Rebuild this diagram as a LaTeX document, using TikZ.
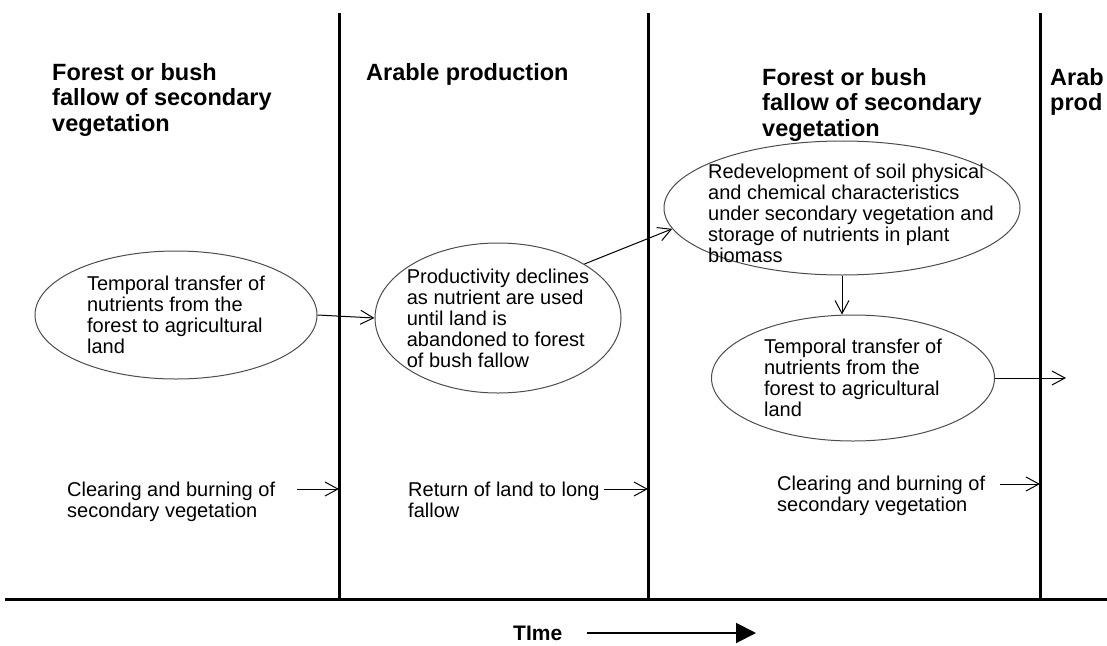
\documentclass[tikz,border=0pt]{standalone}
\usepackage{fontspec}
\setmainfont{Liberation Sans}
\usetikzlibrary{shapes.geometric, arrows.meta, positioning, calc}

\begin{document}
\begin{tikzpicture}[
  x=1pt, y=-1pt,
  phase/.style={align=left,anchor=north west,inner sep=0pt,font=\fontsize{23.5}{25.5}\selectfont\bfseries},
  blob/.style={draw=black!70,ellipse,line width=1pt,inner sep=0pt},
  blobtext/.style={align=left,inner sep=0pt,font=\fontsize{20}{21}\selectfont},
  note/.style={align=left,anchor=north west,inner sep=0pt,font=\fontsize{20}{21}\selectfont},
  divider/.style={line width=3pt},
  arrow/.style={-{Straight Barb[length=13pt,width=14pt]},line width=1pt},
  timearrow/.style={-{Triangle[length=20pt,width=20pt]},line width=2pt}
]
  \useasboundingbox (0,0) rectangle (1107,645);

  % time axis and phase borders
  \coordinate (axisL) at (5,599);   \coordinate (axisR) at (1107,599);
  \coordinate (top1) at (339,13);   \coordinate (bot1) at (339,599);
  \coordinate (top2) at (648,13);   \coordinate (bot2) at (648,599);
  \coordinate (top3) at (1040,13);  \coordinate (bot3) at (1040,599);
  \draw[divider] (axisL) -- (axisR);
  \draw[divider] (top1) -- (bot1);
  \draw[divider] (top2) -- (bot2);
  \draw[divider] (top3) -- (bot3);

  % phase headings
  \node[phase] (fallowA) at (52,63) {Forest or bush\\fallow of secondary\\vegetation};
  \node[phase] (arable) at (366,63) {Arable production};
  \node[phase] (fallowB) at (762,68) {Forest or bush\\fallow of secondary\\vegetation};
  \node[phase] (arab) at (1050,68) {Arab\\prod};

  % nutrient cycle
  \node[blob,minimum width=282pt,minimum height=128pt] (transferA) at (176,315) {};
  \node[blobtext] at (transferA) {Temporal transfer of\\nutrients from the\\forest to agricultural\\land};
  \node[blob,minimum width=246pt,minimum height=150pt] (decline) at (498,318) {};
  \node[blobtext] at (decline) {Productivity declines\\as nutrient are used\\until land is\\abandoned to forest\\of bush fallow};
  \node[blob,minimum width=356pt,minimum height=134pt] (redevelop) at (842,208) {};
  \node[blobtext,xshift=9pt,yshift=-5pt] at (redevelop) {Redevelopment of soil physical\\and chemical characteristics\\under secondary vegetation and\\storage of nutrients in plant\\biomass};
  \node[blob,minimum width=283pt,minimum height=126pt] (transferB) at (853,378) {};
  \node[blobtext] at (transferB) {Temporal transfer of\\nutrients from the\\forest to agricultural\\land};
  \coordinate (nextPhase) at (1066,378);

  \draw[arrow] (transferA.east) -- (decline.west);
  \draw[arrow] (decline.32) -- (redevelop.187);
  \draw[arrow] (redevelop.south) -- (redevelop.south |- transferB.north);
  \draw[arrow] (transferB.east) -- (nextPhase);

  % transitions between phases
  \node[note] (clearA) at (67,482) {Clearing and burning of\\secondary vegetation};
  \node[note] (returnL) at (408,482) {Return of land to long\\fallow};
  \node[note] (clearB) at (777,476) {Clearing and burning of\\secondary vegetation};
  \coordinate (clearAfrom) at (297,489);
  \coordinate (returnLfrom) at (604,489);
  \coordinate (clearBfrom) at (1000,484);
  \draw[arrow] (clearAfrom) -- (clearAfrom -| top1);
  \draw[arrow] (returnLfrom) -- (returnLfrom -| top2);
  \draw[arrow] (clearBfrom) -- (clearBfrom -| top3);

  % time
  \node[anchor=west,inner sep=0pt,font=\fontsize{21}{23}\selectfont\bfseries] (time) at (513,633) {TIme};
  \coordinate[right=25pt of time] (timeStart);
  \coordinate (timeEnd) at (756,633);
  \draw[timearrow] (timeStart) -- (timeEnd);
\end{tikzpicture}
\end{document}
